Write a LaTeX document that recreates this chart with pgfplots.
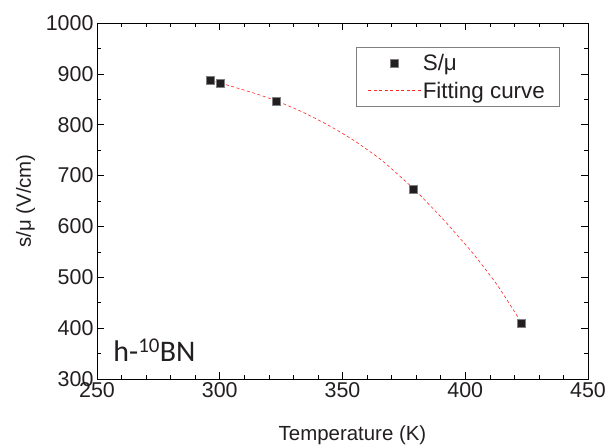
\documentclass[border=0pt]{standalone}
\usepackage{fontspec}
\setmainfont{Liberation Sans}
\newfontfamily\calib{Carlito}
\usepackage{pgfplots}
\pgfplotsset{compat=1.18}

\definecolor{txt}{HTML}{231F20}
\definecolor{mk}{HTML}{231F20}

\begin{document}
\begin{tikzpicture}
\begin{axis}[
  scale only axis,
  width=491bp, height=356bp,
  xmin=250, xmax=450, ymin=300, ymax=1000,
  xtick={250,300,...,450}, ytick={300,400,...,1000},
  minor x tick num=4, minor y tick num=1,
  tick align=inside,
  major tick length=7bp, minor tick length=4bp,
  axis line style={black, line width=0.8pt},
  every tick/.style={black, line width=0.6pt},
  /pgf/number format/assume math mode=true,
  /pgf/number format/1000 sep={},
  tick label style={font=\fontsize{21.5}{21.5}\selectfont, text=txt},
  label style={font=\fontsize{20.5}{20.5}\selectfont, text=txt},
  xlabel={Temperature (K)},
  ylabel={s/μ (V/cm)},
  ylabel style={yshift=4bp},
  xlabel style={xshift=10bp, yshift=-21bp},
  legend style={at={(0.527,0.933)}, anchor=north west,
    draw=gray, line width=0.6pt, font=\fontsize{22.5}{22.5}\selectfont,
    text=txt, inner xsep=12bp, inner ysep=5bp, row sep=6bp, cells={anchor=west},
    /tikz/every even column/.append style={column sep=5bp}},
  legend cell align=left,
  legend image code/.code={\draw[mark repeat=2, mark phase=2, #1]
    plot coordinates {(0cm,0cm) (0.92cm,0cm) (1.84cm,0cm)};},
  clip=false,
]
\addplot[only marks, mark=square*, mark size=4bp,
  mark options={fill=mk, draw=gray, line width=0.5pt}]
  coordinates {(296,887) (300,882) (323,846) (379,674) (423,410)};
\addlegendentry{S/μ}

\addplot[red!85, line width=0.6pt, dash pattern=on 3bp off 2.5bp, smooth, tension=0.3]
  coordinates {
  (296,887) (300,882) (303,878) (310,868) (316,859) (323,847) (329,835)
  (335,822) (345,797) (355,768) (366,730) (379,674) (391,614) (403,548)
  (413,485) (423,410)
  };
\addlegendentry{Fitting curve}

\node[anchor=base west, font=\calib\fontsize{30}{30}\selectfont, text=txt, inner sep=0pt]
  at (rel axis cs:0.033,0.05) {h-\textsuperscript{10}BN};
\end{axis}
\path (current axis.south west) ++(-97bp,-69bp) rectangle ++(616bp,448bp);
\end{tikzpicture}
\end{document}
